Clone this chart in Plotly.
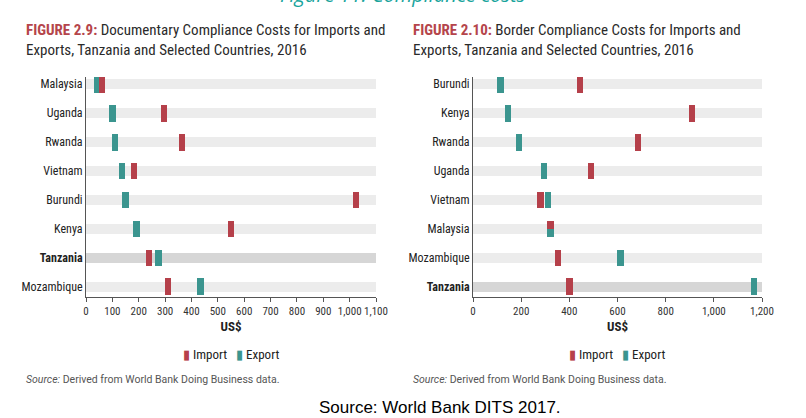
import plotly.graph_objects as go

# Figure 2.9 - documentary compliance costs (US$)
doc_countries = ['Malaysia', 'Uganda', 'Rwanda', 'Vietnam', 'Burundi', 'Kenya', 'Tanzania', 'Mozambique']
doc_import = [60, 295, 365, 182, 1025, 550, 240, 310]
doc_export = [42, 100, 110, 137, 150, 191, 275, 435]

# Figure 2.10 - border compliance costs (US$)
bor_countries = ['Burundi', 'Kenya', 'Rwanda', 'Uganda', 'Vietnam', 'Malaysia', 'Mozambique', 'Tanzania']
bor_import = [444, 910, 685, 490, 280, 322, 354, 400]
bor_export = [114, 146, 190, 296, 311, 322, 612, 1166]

RED = '#b5404a'
TEAL = '#3b958f'
FONT = 'Roboto Condensed, Liberation Sans Narrow, Lato, sans-serif'
W, H = 806, 418

fig = go.Figure()


def px_x(p):
    return p / W


def px_y(p):
    return 1 - p / H


def add_panel(countries, imports, exports, xmax, xa, ya, split=None):
    rows = list(range(len(countries)))
    bands = ['#d6d6d6' if c == 'Tanzania' else '#ececec' for c in countries]
    fig.add_trace(go.Bar(y=rows, x=[xmax] * len(rows), base=0, orientation='h',
                         width=0.34, marker=dict(color=bands, line_width=0),
                         xaxis=xa, yaxis=ya, showlegend=False, hoverinfo='skip'))
    mw = xmax * 0.022
    full = 0.58
    iy, ey = list(rows), list(rows)
    iw, ew = [full] * len(rows), [full] * len(rows)
    if split in countries:
        # both values equal: marker split into an upper (import) and lower (export) half
        k = countries.index(split)
        iy[k] = k - full / 4
        ey[k] = k + full / 4
        iw[k] = ew[k] = full / 2
    fig.add_trace(go.Bar(y=ey, x=[mw] * len(rows), base=[v - mw / 2 for v in exports],
                         orientation='h', width=ew, marker=dict(color=TEAL, line_width=0),
                         xaxis=xa, yaxis=ya, showlegend=False, name='Export'))
    fig.add_trace(go.Bar(y=iy, x=[mw] * len(rows), base=[v - mw / 2 for v in imports],
                         orientation='h', width=iw, marker=dict(color=RED, line_width=0),
                         xaxis=xa, yaxis=ya, showlegend=False, name='Import'))


add_panel(doc_countries, doc_import, doc_export, 1100, 'x', 'y')
add_panel(bor_countries, bor_import, bor_export, 1200, 'x2', 'y2', split='Malaysia')


def ylabels(countries):
    return [f'<b>{c}</b>' if c == 'Tanzania' else c for c in countries]


xcommon = dict(showgrid=False, zeroline=False, showline=True, linecolor='#555', linewidth=1,
               ticks='outside', ticklen=4, tickcolor='#555', tickformat=',', tickangle=0,
               automargin=False, tickfont=dict(size=11, color='#333', family=FONT),
               title=dict(text='<b>US$</b>', font=dict(size=13, color='#222', family=FONT), standoff=4))
ycommon = dict(showgrid=False, zeroline=False, showline=True, linecolor='#555', linewidth=1,
               ticks='', range=[7.35, -0.25], tickfont=dict(size=12, color='#222', family=FONT),
               automargin=False, domain=[px_y(297), px_y(77)], tickmode='array', tickvals=list(range(8)))

fig.update_layout(
    width=W, height=H, margin=dict(l=0, r=0, t=0, b=0, pad=0, autoexpand=False),
    paper_bgcolor='white', plot_bgcolor='white', barmode='overlay', bargap=0,
    font=dict(family=FONT, color='#222'), showlegend=False,
    xaxis=dict(xcommon, domain=[px_x(86), px_x(376)], range=[0, 1100], dtick=100, anchor='y'),
    yaxis=dict(ycommon, anchor='x', ticktext=ylabels(doc_countries)),
    xaxis2=dict(xcommon, domain=[px_x(473), px_x(762)], range=[0, 1200], dtick=200, anchor='y2'),
    yaxis2=dict(ycommon, anchor='x2', ticktext=ylabels(bor_countries)),
)

legend_txt = (f'<span style="color:{RED}">▮</span> Import   '
              f'<span style="color:{TEAL}">▮</span> Export')
titles = [
    (24, 231, '<span style="color:#b5454b"><b>FIGURE 2.9:</b></span> Documentary Compliance Costs for Imports and'
              '<br>Exports, Tanzania and Selected Countries, 2016'),
    (411, 617, '<span style="color:#b5454b"><b>FIGURE 2.10:</b></span> Border Compliance Costs for Imports and'
               '<br>Exports, Tanzania and Selected Countries, 2016'),
]
for x0, xl, txt in titles:
    fig.add_annotation(x=px_x(x0), y=px_y(39.5), xref='paper', yref='paper', xanchor='left', yanchor='middle',
                       align='left', showarrow=False, text=txt,
                       font=dict(size=15, color='#2a2a2a', family=FONT))
    fig.add_annotation(x=px_x(xl), y=px_y(354), xref='paper', yref='paper', xanchor='center', yanchor='middle',
                       showarrow=False, text=legend_txt, font=dict(size=13, color='#222', family=FONT))
    fig.add_annotation(x=px_x(x0), y=px_y(379), xref='paper', yref='paper', xanchor='left', yanchor='middle',
                       showarrow=False, text='<i>Source:</i> Derived from World Bank Doing Business data.',
                       font=dict(size=10.5, color='#555', family='Roboto'))

fig.add_annotation(x=px_x(403), y=px_y(10), xref='paper', yref='paper', xanchor='center', yanchor='bottom',
                   showarrow=False, text='<i>Figure 11: Compliance costs</i>',
                   font=dict(size=20, color='#18a49c', family='Open Sans'))
fig.add_annotation(x=px_x(440), y=px_y(407), xref='paper', yref='paper', xanchor='center', yanchor='middle',
                   showarrow=False, text='Source: World Bank DITS 2017.',
                   font=dict(size=17, color='#000', family='Liberation Sans, Arial'))

# the page's default body margin would push the figure 8px right and down
fig.write_html('out.html', config={'displayModeBar': False},
               post_script="document.body.style.margin='0';document.body.style.overflow='hidden';")
